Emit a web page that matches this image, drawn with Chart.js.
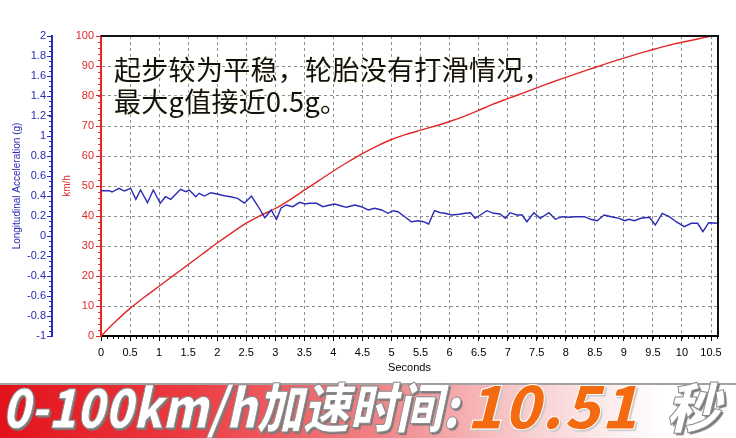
<!DOCTYPE html>
<html>
<head>
<meta charset="utf-8">
<script src="https://cdn.jsdelivr.net/npm/chart.js@4.4.1/dist/chart.umd.min.js"></script>
<style>
  html, body { margin: 0; padding: 0; background: #fff; }
  #wrap { position: relative; width: 736px; height: 438px; overflow: hidden; }
  #chartBox { position: absolute; left: 0; top: 0; width: 736px; height: 380px; }
  #note {
    position: absolute; left: 114px; top: 53px;
    font-family: "Noto Sans CJK SC", sans-serif; font-size: 27px; line-height: 32px;
    letter-spacing: 0.3px; color: #111;
    text-shadow: 0 0 3px #fffbe6, 0 0 3px #fffbe6, 0 0 2px #fff;
  }
  #banner {
    position: absolute; left: 0; top: 383px; width: 736px; height: 55px;
    border-top: 2px solid #a3a3a3; box-sizing: border-box;
    background: linear-gradient(to right, #e3121b 0%, #ea3a40 25%, #f07f83 50%, #f8cfd0 72%, #ffffff 90%);
    white-space: nowrap;
  }
  #banner span {
    position: absolute; top: -9px; display: inline-block;
    font-family: "Noto Sans CJK SC", sans-serif; font-weight: 900; font-style: italic;
    line-height: 58px; transform-origin: left center;
  }
  #banner .w { color: #fff; -webkit-text-stroke: 1px #8a8a8a; text-shadow: 2px 2px 1px #7a7a7a; }
  #banner .o { color: #f36a10; -webkit-text-stroke: 1px #fff; text-shadow: 2px 2px 1px #c9c9c9; }
  #t1 { left: 2px; font-size: 54px; transform: scaleX(0.86); }
  #t2 { left: 466px; top: -11px !important; font-size: 60px; letter-spacing: 1px; }
  #t3 { left: 666px; font-size: 54px; }
</style>
</head>
<body>
<div id="wrap">
  <div id="chartBox"><canvas id="accelChart"></canvas></div>
  <div id="note">起步较为平稳，轮胎没有打滑情况，<br>最大g值接近0.5g。</div>
  <div id="banner"><span id="t1" class="w">0-100km/h加速时间:</span><span id="t2" class="o">10.51</span><span id="t3" class="w">秒</span></div>
</div>
<script>
// tick labels
const timeTicks = [0, 0.5, 1, 1.5, 2, 2.5, 3, 3.5, 4, 4.5, 5, 5.5, 6, 6.5, 7, 7.5, 8, 8.5, 9, 9.5, 10, 10.5];
const speedTicks = [0, 10, 20, 30, 40, 50, 60, 70, 80, 90, 100];
const accelTicks = [-1, -0.8, -0.6, -0.4, -0.2, 0, 0.2, 0.4, 0.6, 0.8, 1, 1.2, 1.4, 1.6, 1.8, 2];

// speed (km/h) vs seconds
const speedTime = [0, 0.25, 0.5, 0.75, 1, 1.25, 1.5, 1.75, 2, 2.25, 2.5, 2.75, 3, 3.25, 3.5, 3.75, 4, 4.25, 4.5, 4.75,
  5, 5.25, 5.5, 5.75, 6, 6.25, 6.5, 6.75, 7, 7.25, 7.5, 7.75, 8, 8.25, 8.5, 8.75, 9, 9.25, 9.5, 9.75, 10, 10.25, 10.51];
const speedKmh = [0, 4.8, 9.2, 13, 16.6, 20.2, 23.8, 27.4, 31, 34.4, 37.6, 40.2, 42.5, 45.4, 48.6, 51.8, 55, 58, 60.8, 63.3,
  65.5, 67.2, 68.6, 70, 71.5, 73.2, 75.2, 77.3, 79.1, 80.9, 82.7, 84.5, 86.2, 87.9, 89.5, 91.1, 92.6, 94.1, 95.5, 96.8, 97.9, 98.9, 100];

// longitudinal acceleration (g) vs seconds
const accelTime = [0, 0.14, 0.19, 0.31, 0.4, 0.51, 0.6, 0.68, 0.8, 0.9, 1.02, 1.11, 1.2, 1.37, 1.46, 1.52, 1.63, 1.69, 1.78, 1.89,
  2, 2.12, 2.23, 2.35, 2.47, 2.59, 2.7, 2.82, 2.93, 3.02, 3.1, 3.19, 3.3, 3.42, 3.51, 3.59, 3.71, 3.82, 3.94, 4.02,
  4.14, 4.22, 4.37, 4.48, 4.6, 4.71, 4.83, 4.94, 5.03, 5.11, 5.23, 5.34, 5.47, 5.55, 5.64, 5.74, 5.84, 5.92, 6.04, 6.16,
  6.27, 6.36, 6.44, 6.53, 6.64, 6.76, 6.87, 6.96, 7.04, 7.16, 7.25, 7.33, 7.45, 7.56, 7.71, 7.82, 7.94, 8.05, 8.17, 8.32,
  8.43, 8.54, 8.66, 8.78, 8.92, 9.01, 9.09, 9.18, 9.29, 9.44, 9.54, 9.66, 9.78, 9.9, 10.04, 10.16, 10.27, 10.36, 10.46, 10.62];
const accelG = [0.453, 0.453, 0.44, 0.477, 0.45, 0.477, 0.367, 0.46, 0.333, 0.46, 0.327, 0.393, 0.367, 0.467, 0.443, 0.46, 0.393, 0.427, 0.4, 0.433,
  0.42, 0.403, 0.393, 0.377, 0.33, 0.4, 0.3, 0.182, 0.26, 0.167, 0.28, 0.31, 0.293, 0.337, 0.32, 0.327, 0.327, 0.293, 0.31, 0.32,
  0.3, 0.287, 0.31, 0.293, 0.26, 0.277, 0.26, 0.227, 0.253, 0.243, 0.193, 0.143, 0.153, 0.143, 0.12, 0.253, 0.233, 0.227, 0.21, 0.217,
  0.227, 0.233, 0.177, 0.21, 0.253, 0.227, 0.22, 0.177, 0.233, 0.21, 0.21, 0.143, 0.233, 0.177, 0.233, 0.167, 0.193, 0.187, 0.193, 0.193,
  0.167, 0.153, 0.21, 0.193, 0.177, 0.153, 0.167, 0.153, 0.177, 0.187, 0.11, 0.227, 0.193, 0.143, 0.093, 0.127, 0.127, 0.043, 0.133, 0.127];

const BLUE = "#2a2ab4";
const RED = "#e02828";
const GRID = "#8c8c8c";
const AXIS_FONT = { family: "Liberation Sans", size: 11 };

// frame on top/right plus the small minor ticks along the axes
const framePlugin = {
  id: "frame",
  afterDraw(chart) {
    const { ctx, chartArea: a, scales } = chart;
    ctx.save();
    ctx.strokeStyle = "#111";
    ctx.lineWidth = 2;
    ctx.beginPath();
    ctx.moveTo(a.left, a.top);
    ctx.lineTo(a.right, a.top);
    ctx.lineTo(a.right, a.bottom);
    ctx.stroke();

    ctx.lineWidth = 1;
    ctx.strokeStyle = "#000";
    ctx.beginPath();
    for (let i = 1; i <= 106; i++) {
      const px = Math.round(scales.x.getPixelForValue(i / 10)) + 0.5;
      ctx.moveTo(px, a.bottom);
      ctx.lineTo(px, a.bottom + 3);
    }
    ctx.stroke();

    ctx.strokeStyle = RED;
    ctx.beginPath();
    for (let v = 0; v <= 100; v += 2) {
      const py = Math.round(scales.v.getPixelForValue(v)) + 0.5;
      ctx.moveTo(a.left - 3, py);
      ctx.lineTo(a.left, py);
    }
    ctx.stroke();

    const g = scales.g;
    ctx.strokeStyle = BLUE;
    ctx.beginPath();
    for (let k = -20; k <= 40; k++) {
      const py = Math.round(g.getPixelForValue(k / 20)) + 0.5;
      ctx.moveTo(g.right - 3, py);
      ctx.lineTo(g.right, py);
    }
    ctx.stroke();
    ctx.restore();
  }
};

new Chart(document.getElementById("accelChart"), {
  type: "line",
  data: {
    datasets: [
      {
        label: "Longitudinal Acceleration (g)",
        data: accelTime.map((t, i) => ({ x: t, y: accelG[i] })),
        yAxisID: "g",
        borderColor: BLUE,
        borderWidth: 1.4,
        pointRadius: 0,
        tension: 0
      },
      {
        label: "km/h",
        data: speedTime.map((t, i) => ({ x: t, y: speedKmh[i] })),
        yAxisID: "v",
        borderColor: RED,
        borderWidth: 1.4,
        pointRadius: 0,
        tension: 0.2
      }
    ]
  },
  options: {
    responsive: true,
    maintainAspectRatio: false,
    animation: false,
    events: [],
    layout: { padding: { top: 36, right: 18, left: 0, bottom: 0 } },
    plugins: { legend: { display: false }, tooltip: { enabled: false } },
    scales: {
      x: {
        type: "linear",
        position: "bottom",
        min: 0,
        max: 10.62,
        afterBuildTicks: s => { s.ticks = timeTicks.map(v => ({ value: v })); },
        afterFit: s => { s.height = 44; },
        ticks: { color: "#000", font: AXIS_FONT, padding: 5, maxRotation: 0, autoSkip: false, callback: v => String(v) },
        grid: { color: GRID, lineWidth: 1, tickColor: "#000", tickLength: 5, tickBorderDash: [] },
        border: { color: "#000", width: 2, dash: [3, 3] },
        title: { display: true, text: "Seconds", color: "#000", font: AXIS_FONT, padding: { top: 0, bottom: 5 } }
      },
      v: {
        type: "linear",
        position: "left",
        weight: 0,
        min: 0,
        max: 100,
        afterBuildTicks: s => { s.ticks = speedTicks.map(v => ({ value: v })); },
        afterFit: s => { s.width = 49; },
        ticks: { color: RED, font: AXIS_FONT, padding: 2, callback: v => String(v) },
        grid: { color: GRID, lineWidth: 1, tickColor: RED, tickLength: 5, tickBorderDash: [] },
        border: { color: RED, width: 2, dash: [3, 3] },
        title: { display: true, text: "km/h", color: RED, font: { family: "Liberation Sans", size: 10 }, padding: { top: 9, bottom: 0 } }
      },
      g: {
        type: "linear",
        position: "left",
        weight: 1,
        min: -1,
        max: 2,
        afterBuildTicks: s => { s.ticks = accelTicks.map(v => ({ value: v })); },
        afterFit: s => { s.width = 52; },
        ticks: { color: BLUE, font: AXIS_FONT, padding: 1, callback: v => String(Math.round(v * 10) / 10) },
        grid: { drawOnChartArea: false, tickColor: BLUE, tickLength: 5 },
        border: { color: BLUE, width: 2 },
        title: { display: true, text: "Longitudinal Acceleration (g)", color: BLUE, font: { family: "Liberation Sans", size: 10 }, padding: { top: 11, bottom: 0 } }
      }
    }
  },
  plugins: [framePlugin]
});
</script>
</body>
</html>
